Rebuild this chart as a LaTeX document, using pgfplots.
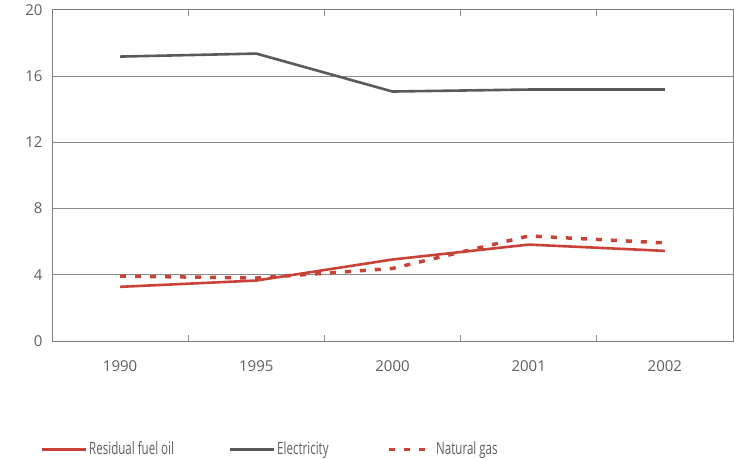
\documentclass[border=0pt]{standalone}
\usepackage{pgfplots}
\pgfplotsset{compat=1.18}
\usepackage{fontspec}
\setmainfont{Open Sans}
\newfontfamily\narrowfont[FakeStretch=0.68]{Open Sans}
\definecolor{fuelred}{RGB}{201,66,56}
\definecolor{elecgray}{RGB}{90,90,90}
\definecolor{txtgray}{RGB}{95,95,95}
\definecolor{gridgray}{RGB}{140,140,140}

\pgfplotstableread{
x resid elec gas
0 3.27 17.17 3.92
1 3.65 17.35 3.80
2 4.92 15.06 4.38
3 5.82 15.18 6.34
4 5.44 15.18 5.92
}\pricedata

\begin{document}
\begin{tikzpicture}
\path[use as bounding box] (-52bp,-118bp) rectangle (682bp,341bp);
\begin{axis}[
  scale only axis,
  width=681bp, height=331.3bp,
  at={(0,0)}, anchor=south west,
  xmin=-0.5, xmax=4.5,
  ymin=0, ymax=20,
  ytick={0,4,8,12,16,20},
  xtick={0,1,2,3,4},
  xticklabels={1990,1995,2000,2001,2002},
  major tick length=0pt,
  extra x ticks={0.5,1.5,2.5,3.5},
  extra x tick labels={},
  extra x tick style={major tick length=6bp, tick align=inside, grid=none},
  ymajorgrids,
  grid style={gridgray, line width=0.8bp},
  axis line style={gridgray!90!black, line width=1bp},
  tick style={gridgray, line width=0.8bp},
  ticklabel style={font=\fontsize{15bp}{18bp}\selectfont, text=txtgray},
  /pgf/number format/assume math mode=true,
  yticklabel style={xshift=-6bp},
  xticklabel style={yshift=-16bp},
  legend columns=3,
  legend style={at={(-12bp,-108bp)}, anchor=west, draw=none, fill=none,
    inner sep=0pt, font=\narrowfont\fontsize{17bp}{19bp}\selectfont, text=txtgray,
    nodes={inner sep=2bp},
    /tikz/every even column/.append style={column sep=0bp}},
  legend cell align=left,
  legend image code/.code={\draw[line width=3bp, #1] (0bp,0bp) -- (44bp,0bp);},
]
\addplot[fuelred, line width=2.6bp] table[x=x,y=resid] {\pricedata};
\addlegendentry{\makebox[137bp][l]{Residual fuel oil}}
\addplot[elecgray, line width=2.6bp] table[x=x,y=elec] {\pricedata};
\addlegendentry{\makebox[108bp][l]{Electricity}}
\addplot[fuelred, line width=3.5bp, dash pattern=on 6bp off 9bp] table[x=x,y=gas] {\pricedata};
\addlegendentry{Natural gas}
\end{axis}
\end{tikzpicture}
\end{document}
